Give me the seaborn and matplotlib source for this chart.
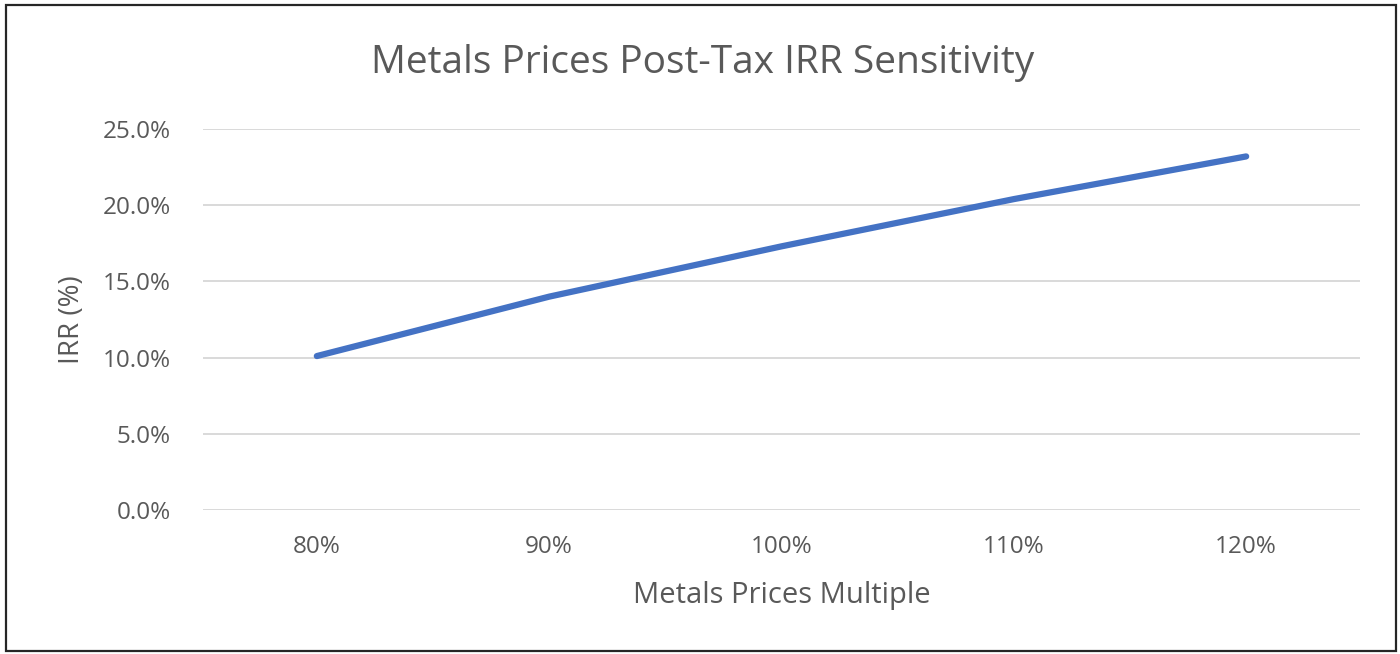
import matplotlib
matplotlib.use("Agg")
import matplotlib.pyplot as plt
import matplotlib.patches as mpatches
import seaborn as sns
import pandas as pd
from matplotlib.ticker import FuncFormatter

# Sensitivity of post-tax IRR to the metals price multiple
price_multiple = ["80%", "90%", "100%", "110%", "120%"]
irr_pct = [10.1, 14.0, 17.3, 20.4, 23.2]
y_ticks = [0, 5, 10, 15, 20, 25]

df = pd.DataFrame({"multiple": price_multiple, "irr": irr_pct})

sns.set_theme(style="white")
plt.rcParams["font.family"] = ["Open Sans", "DejaVu Sans"]

text_color = "#595959"
fig = plt.figure(figsize=(14, 6.54), dpi=100)
ax = fig.add_axes([203 / 1400, 1 - 510 / 654, (1360 - 203) / 1400, (510 - 129) / 654])

sns.lineplot(data=df, x="multiple", y="irr", sort=False, ax=ax,
             color="#4472C4", linewidth=4.5, solid_capstyle="round")

ax.set_xlim(-0.49, 4.49)
ax.set_ylim(0, 25)
ax.set_yticks(y_ticks)
ax.yaxis.set_major_formatter(FuncFormatter(lambda v, _: f"{v:.1f}%"))
ax.grid(axis="y", color="#D9D9D9", linewidth=1.4)
ax.grid(axis="x", visible=False)
ax.set_axisbelow(True)
for s in ax.spines.values():
    s.set_visible(False)
ax.tick_params(axis="both", length=0, labelsize=17.5, colors=text_color)
ax.tick_params(axis="y", pad=23)
ax.tick_params(axis="x", pad=18)

ax.set_xlabel("Metals Prices Multiple", fontsize=21, color=text_color, labelpad=16)
ax.set_ylabel("IRR (%)", fontsize=20, color=text_color, labelpad=12)
fig.text(0.502, 1 - 63 / 654, "Metals Prices Post-Tax IRR Sensitivity",
         ha="center", va="center", fontsize=28, color=text_color)

# Chart frame
fig.patches.append(mpatches.Rectangle((0.004, 0.004), 0.993, 0.988,
                                      transform=fig.transFigure, fill=False,
                                      edgecolor="#262626", linewidth=1.6))

fig.savefig("out.png", dpi=100)
